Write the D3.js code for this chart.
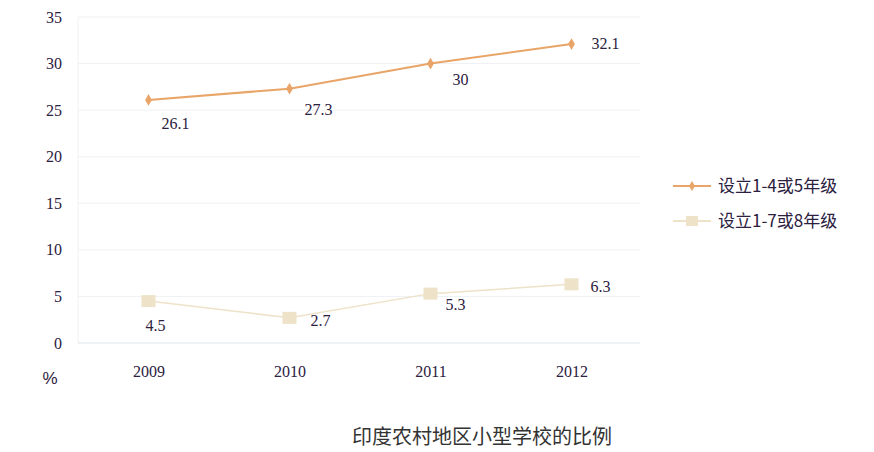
<!DOCTYPE html>
<html lang="zh">
<head>
<meta charset="UTF-8">
<title>印度农村地区小型学校的比例</title>
<style>
  body { margin: 0; background: #fff; }
  svg { display: block; }
</style>
</head>
<body>
<script src="https://d3js.org/d3.v7.min.js"></script>
<script>
// 数据
var years = ["2009", "2010", "2011", "2012"];
var series1 = [26.1, 27.3, 30, 32.1];   // 设立1-4或5年级
var series2 = [4.5, 2.7, 5.3, 6.3];     // 设立1-7或8年级
var seriesNames = ["设立1-4或5年级", "设立1-7或8年级"];
var yTicks = [0, 5, 10, 15, 20, 25, 30, 35];

var width = 874, height = 452;
var plotLeft = 78, plotRight = 642, plotTop = 17, plotBottom = 343;

var svg = d3.select("body").append("svg").attr("width", width).attr("height", height);

var x = d3.scalePoint().domain(years).range([plotLeft, plotRight]).padding(0.5);
var y = d3.scaleLinear().domain([0, 35]).range([plotBottom, plotTop]);

// 网格线
svg.append("g").selectAll("line").data(yTicks).enter().append("line")
  .attr("x1", plotLeft).attr("x2", plotRight - 2)
  .attr("y1", function (d) { return y(d); }).attr("y2", function (d) { return y(d); })
  .attr("stroke", function (d) { return d === 0 ? "#dfe5ea" : "#eef1f4"; })
  .attr("stroke-width", 1);
svg.append("line").attr("x1", plotLeft).attr("x2", plotLeft).attr("y1", plotTop).attr("y2", plotBottom)
  .attr("stroke", "#eef1f4");

// y 轴
var yAxis = d3.axisLeft(y).tickValues(yTicks).tickSize(0).tickPadding(16);
var gy = svg.append("g").attr("transform", "translate(" + plotLeft + ",0)").call(yAxis);
gy.select(".domain").remove();
gy.selectAll("text").attr("font-family", "Liberation Serif, serif").attr("font-size", 16).attr("fill", "#2b2040");

// x 轴
var xAxis = d3.axisBottom(x).tickSize(0).tickPadding(23);
var gx = svg.append("g").attr("transform", "translate(0," + plotBottom + ")").call(xAxis);
gx.select(".domain").remove();
gx.selectAll("text").attr("font-family", "Liberation Serif, serif").attr("font-size", 16).attr("fill", "#2b2040");

svg.append("text").attr("x", 50).attr("y", 384).attr("text-anchor", "middle")
  .attr("font-family", "Liberation Sans, sans-serif").attr("font-size", 17).attr("fill", "#2b2040").text("%");

var line = d3.line().x(function (d, i) { return x(years[i]); }).y(function (d) { return y(d); });

var c1 = "#e9a467", c2 = "#eee2c8";

// 系列 1
svg.append("path").datum(series1).attr("d", line).attr("fill", "none").attr("stroke", c1).attr("stroke-width", 2);
svg.append("g").selectAll("path").data(series1).enter().append("path")
  .attr("d", d3.symbol().type(d3.symbolDiamond).size(40))
  .attr("transform", function (d, i) { return "translate(" + x(years[i]) + "," + y(d) + ")"; })
  .attr("fill", c1);

// 系列 2
svg.append("path").datum(series2).attr("d", line).attr("fill", "none").attr("stroke", c2).attr("stroke-width", 1.5);
svg.append("g").selectAll("rect").data(series2).enter().append("rect")
  .attr("x", function (d, i) { return x(years[i]) - 7; })
  .attr("y", function (d) { return y(d) - 6; })
  .attr("width", 14).attr("height", 12)
  .attr("fill", c2);

// 数据标签
var off1 = [[27, 25], [29, 23], [30, 18], [34, 1]];
var off2 = [[7, 26], [31, 4], [25, 13], [29, 4]];
function labels(data, off) {
  svg.append("g").selectAll("text").data(data).enter().append("text")
    .attr("x", function (d, i) { return x(years[i]) + off[i][0]; })
    .attr("y", function (d, i) { return y(d) + off[i][1]; })
    .attr("text-anchor", "middle").attr("dominant-baseline", "middle")
    .attr("font-family", "Liberation Serif, serif").attr("font-size", 16).attr("fill", "#2b2040")
    .text(function (d) { return d; });
}
labels(series1, off1);
labels(series2, off2);

// 图例
var legend = svg.append("g").selectAll("g").data(seriesNames).enter().append("g")
  .attr("transform", function (d, i) { return "translate(673," + (186 + i * 35) + ")"; });
legend.append("line").attr("x1", 0).attr("x2", 38).attr("stroke", function (d, i) { return [c1, c2][i]; }).attr("stroke-width", 2);
legend.each(function (d, i) {
  var g = d3.select(this);
  if (i === 0) g.append("path").attr("d", d3.symbol().type(d3.symbolDiamond).size(30)).attr("transform", "translate(19,0)").attr("fill", c1);
  else g.append("rect").attr("x", 13).attr("y", -5).attr("width", 12).attr("height", 10).attr("fill", c2);
});
legend.append("text").attr("x", 45).attr("dy", "0.35em")
  .attr("font-family", "Noto Sans CJK SC, sans-serif").attr("font-size", 17).attr("fill", "#2b2040")
  .text(function (d) { return d; });

// 标题
svg.append("text").attr("x", 482).attr("y", 444).attr("text-anchor", "middle")
  .attr("font-family", "Noto Sans CJK SC, sans-serif").attr("font-size", 20).attr("fill", "#333")
  .text("印度农村地区小型学校的比例");
</script>
</body>
</html>
